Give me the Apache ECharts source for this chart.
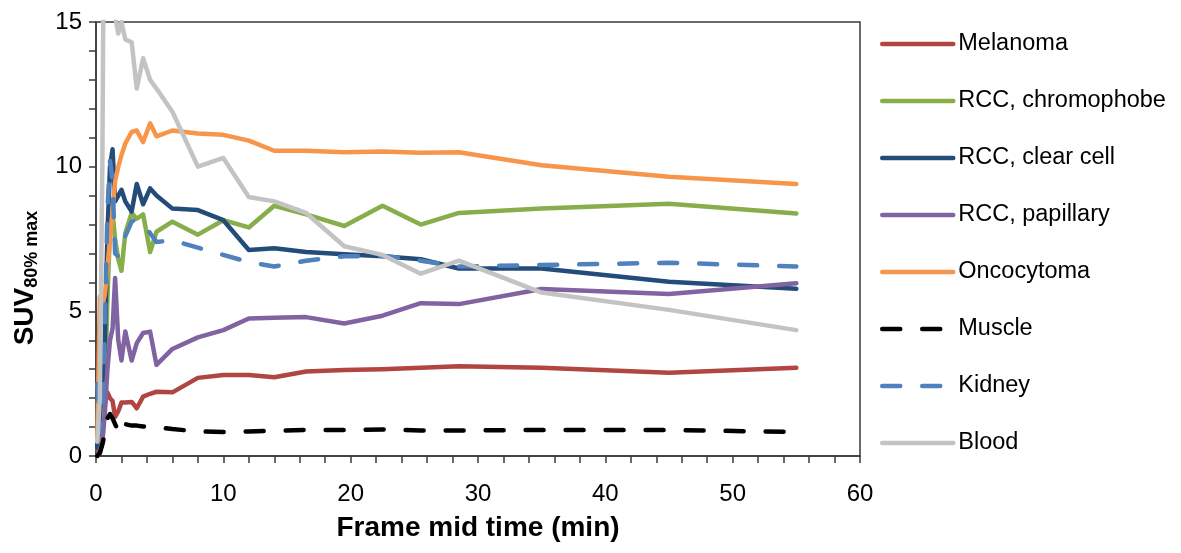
<!DOCTYPE html>
<html>
<head>
<meta charset="utf-8">
<script src="https://cdn.jsdelivr.net/npm/echarts@6/dist/echarts.min.js"></script>
<style>
html,body{margin:0;padding:0;background:#fff;}
#chart{width:1181px;height:553px;}
</style>
</head>
<body>
<div id="chart"></div>
<script>
// Frame mid times (min)
var frameTimes = [0.1, 0.3, 0.5, 0.7, 0.9, 1.1, 1.3, 1.5, 1.75, 2.0, 2.3, 2.8, 3.2, 3.7, 4.25, 4.75, 6, 8, 10, 12, 14, 16.5, 19.5, 22.5, 25.5, 28.5, 35, 45, 55];

var seriesNames = ['Melanoma', 'RCC, chromophobe', 'RCC, clear cell', 'RCC, papillary', 'Oncocytoma', 'Muscle', 'Kidney', 'Blood'];

var melanoma     = [0.2, 0.8, 1.3, 1.8, 2.2, 2.0, 1.9, 1.35, 1.55, 1.85, 1.85, 1.87, 1.65, 2.05, 2.15, 2.22, 2.2, 2.7, 2.8, 2.8, 2.72, 2.92, 2.97, 3.0, 3.05, 3.1, 3.05, 2.88, 3.05];
var chromophobe  = [0, 0.1, 0.5, 2.0, 5.5, 7.8, 8.4, 7.5, 6.8, 6.4, 7.7, 8.4, 8.2, 8.35, 7.05, 7.75, 8.1, 7.65, 8.15, 7.9, 8.65, 8.35, 7.95, 8.65, 8.0, 8.4, 8.55, 8.72, 8.38];
var clearCell    = [0.3, 1.5, 2.5, 4.0, 7.7, 10.0, 10.6, 8.8, 9.0, 9.2, 8.8, 8.45, 9.4, 8.7, 9.25, 9.0, 8.55, 8.5, 8.15, 7.12, 7.18, 7.05, 6.97, 6.9, 6.8, 6.48, 6.48, 6.02, 5.78];
var papillary    = [0, 0.2, 0.5, 1.5, 3.0, 4.0, 4.4, 6.15, 4.0, 3.3, 4.3, 3.3, 3.9, 4.25, 4.3, 3.15, 3.7, 4.1, 4.35, 4.75, 4.78, 4.8, 4.58, 4.85, 5.28, 5.25, 5.77, 5.6, 5.97];
var oncocytoma   = [0.5, 5.5, 5.2, 5.6, 6.5, 7.5, 8.5, 9.5, 10.0, 10.4, 10.8, 11.2, 11.25, 10.85, 11.5, 11.05, 11.25, 11.15, 11.1, 10.9, 10.55, 10.55, 10.5, 10.52, 10.48, 10.5, 10.05, 9.65, 9.4];
var muscle       = [0, 0.1, 0.4, 0.8, 1.3, 1.45, 1.3, 1.1, 0.85, 1.2, 1.1, 1.05, 1.05, 1.02, 1.0, 1.0, 0.93, 0.85, 0.83, 0.85, 0.87, 0.9, 0.9, 0.92, 0.88, 0.88, 0.9, 0.9, 0.83];
var kidney       = [2.5, 0.8, 1.5, 4.5, 8.5, 10.2, 9.5, 7.0, 6.9, 7.3, 7.6, 8.1, 8.2, 8.0, 7.7, 7.4, 7.45, 7.2, 6.95, 6.7, 6.55, 6.75, 6.9, 6.92, 6.75, 6.55, 6.6, 6.68, 6.55];
var blood        = [0.5, 2.0, 10.0, 25, 22, 19, 17, 15.2, 14.6, 15.0, 14.4, 14.3, 12.7, 13.75, 13.0, 12.7, 11.9, 10.0, 10.3, 8.95, 8.8, 8.4, 7.25, 6.95, 6.3, 6.75, 5.65, 5.05, 4.35];

var seriesValues = [melanoma, chromophobe, clearCell, papillary, oncocytoma, muscle, kidney, blood];
var seriesColors = ['#B04542', '#88AD4B', '#234C7B', '#8064A2', '#F7964A', '#000000', '#4F81BD', '#C3C3C3'];
var seriesDashed = [false, false, false, false, false, true, true, false];

var FONT = '"Liberation Sans", Arial, Helvetica, sans-serif';

var chart = echarts.init(document.getElementById('chart'), null, {renderer: 'canvas'});

var series = seriesNames.map(function (name, k) {
  return {
    name: name,
    type: 'line',
    data: frameTimes.map(function (t, i) { return [t, seriesValues[k][i]]; }),
    showSymbol: false,
    symbol: 'none',
    clip: true,
    z: 2 + k,
    lineStyle: {
      color: seriesColors[k],
      width: 4.5,
      type: seriesDashed[k] ? [18, 22] : 'solid',
      cap: 'round',
      join: 'round'
    },
    itemStyle: {color: seriesColors[k]}
  };
});

var axisColor = '#3a3a3a';

chart.setOption({
  animation: false,
  backgroundColor: '#ffffff',
  textStyle: {fontFamily: FONT},
  grid: {
    left: 96, right: 321, top: 22, bottom: 97,
    show: true, borderColor: axisColor, borderWidth: 1.5, backgroundColor: 'transparent'
  },
  legend: {
    orient: 'vertical',
    left: 875,
    top: 27,
    itemWidth: 71,
    itemHeight: 24,
    itemGap: 33,
    itemStyle: {opacity: 0, borderWidth: 0},
    lineStyle: {width: 4.5, cap: 'round'},
    textStyle: {fontSize: 23.5, color: '#000', fontFamily: FONT, lineHeight: 24},
    data: seriesNames
  },
  xAxis: {
    type: 'value',
    min: 0, max: 60, interval: 10,
    name: 'Frame mid time (min)',
    nameLocation: 'middle',
    nameGap: 58,
    nameTextStyle: {fontSize: 28, fontWeight: 'bold', color: '#000', fontFamily: FONT},
    axisLine: {show: true, onZero: false, lineStyle: {color: axisColor, width: 1.5}},
    axisTick: {show: true, length: 7, lineStyle: {color: axisColor, width: 1.5}},
    minorTick: {show: true, splitNumber: 5, length: 7, lineStyle: {color: axisColor, width: 1.5}},
    splitLine: {show: false},
    minorSplitLine: {show: false},
    axisLabel: {fontSize: 24, color: '#000', margin: 26, fontFamily: FONT}
  },
  yAxis: {
    type: 'value',
    min: 0, max: 15, interval: 5,
    axisLine: {show: true, onZero: false, lineStyle: {color: axisColor, width: 1.5}},
    axisTick: {show: true, length: 7, lineStyle: {color: axisColor, width: 1.5}},
    minorTick: {show: true, splitNumber: 5, length: 7, lineStyle: {color: axisColor, width: 1.5}},
    splitLine: {show: false},
    minorSplitLine: {show: false},
    axisLabel: {fontSize: 24, color: '#000', margin: 14, fontFamily: FONT}
  },
  graphic: [{
    type: 'text',
    x: 26,
    y: 278,
    rotation: Math.PI / 2,
    style: {
      text: '{a|SUV}{b|80% max}',
      align: 'center',
      verticalAlign: 'middle',
      fill: '#000',
      rich: {
        a: {fontSize: 28, fontWeight: 'bold', fontFamily: FONT, lineHeight: 30, verticalAlign: 'top', fill: '#000'},
        b: {fontSize: 18, fontWeight: 'bold', fontFamily: FONT, lineHeight: 18, verticalAlign: 'bottom', fill: '#000'}
      }
    }
  }],
  series: series
});
</script>
</body>
</html>
